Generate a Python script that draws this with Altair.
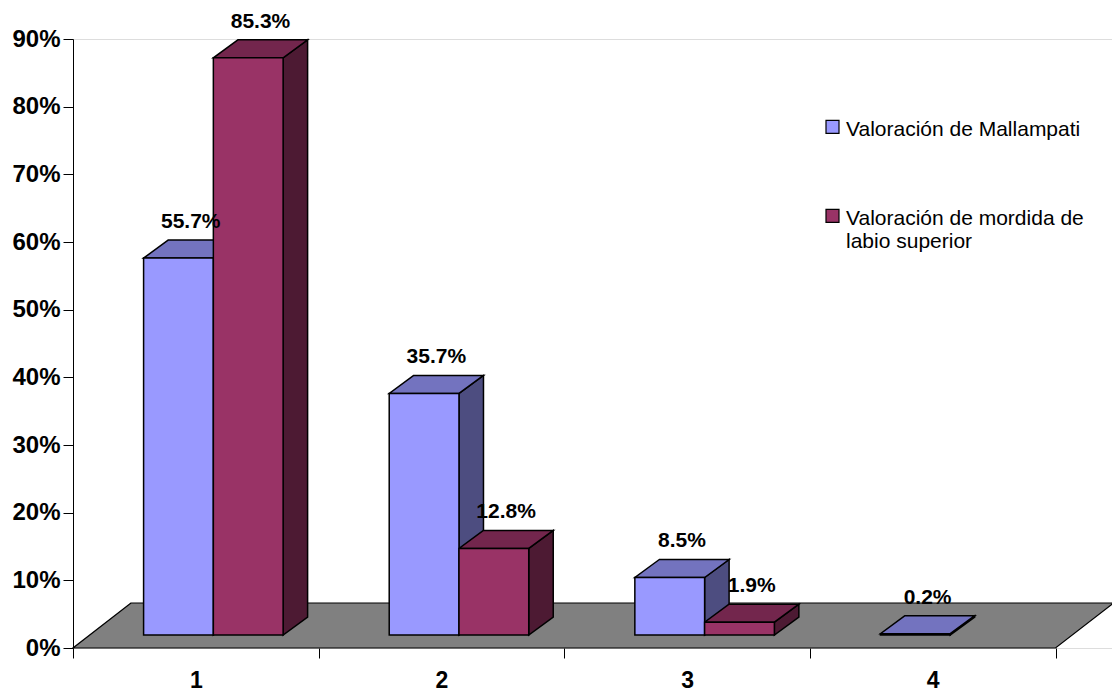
import json
import altair as alt
import pandas as pd

# ---------------- data ----------------
categories = ["1", "2", "3", "4"]
series_names = ["Valoración de Mallampati", "Valoración de mordida de labio superior"]
mallampati = [55.7, 35.7, 8.5, 0.2]
mordida = [85.3, 12.8, 1.9, None]
legend_lines = [["Valoración de Mallampati"], ["Valoración de mordida de", "labio superior"]]

# ---------------- style ----------------
front_colors = ["#9999FF", "#993366"]
top_colors = ["#7373BF", "#73264D"]
side_colors = ["#4D4D80", "#4D1A33"]

W, H = 1039, 609
X_MAX = 4.23
Y_MAX = 90
PXU_X = W / X_MAX
PXU_Y = H / Y_MAX


def ux(px):
    return px / PXU_X


def uy(px):
    return px / PXU_Y


FLOOR_DX, FLOOR_DY = ux(58), uy(45)
FRONT_DX, FRONT_DY = ux(16.8), uy(13)
BAR_DX, BAR_DY = ux(24.5), uy(18)
GROUP_START = 0.219
BAR_W = 0.284
EDGE = 1.5

n = len(categories)
values = [mallampati, mordida]

fronts, sides, tops, labels = [], [], [], []
for s, vals in enumerate(values):
    for i, v in enumerate(vals):
        if v is None:
            continue
        bid = f"{s}-{i}"
        L = i + GROUP_START + s * BAR_W + FRONT_DX
        R = L + BAR_W
        base = FRONT_DY
        top = base + v
        fronts.append({"x": L, "x2": R, "y": base, "y2": top, "series": series_names[s]})
        sides.append({"id": bid, "x": R, "y": top, "y2": base, "fill": side_colors[s]})
        sides.append({"id": bid, "x": R + BAR_DX, "y": top + BAR_DY, "y2": base + BAR_DY, "fill": side_colors[s]})
        tops.append({"id": bid, "y": top, "x": L, "x2": R, "fill": top_colors[s]})
        tops.append({"id": bid, "y": top + BAR_DY, "x": L + BAR_DX, "x2": R + BAR_DX, "fill": top_colors[s]})
        labels.append({"x": (L + R) / 2 + BAR_DX / 2, "y": top + BAR_DY, "text": f"{v}%"})

floor = pd.DataFrame({"y": [0, FLOOR_DY], "x": [0, FLOOR_DX], "x2": [n, n + FLOOR_DX]})
fronts = pd.DataFrame(fronts)
sides = pd.DataFrame(sides)
tops = pd.DataFrame(tops)
labels = pd.DataFrame(labels)

# ---------------- scales / axes ----------------
x_scale = alt.Scale(domain=[0, X_MAX], nice=False, zero=False)
y_scale = alt.Scale(domain=[0, Y_MAX], nice=False, zero=False)

cat_array = json.dumps(categories, ensure_ascii=False)
x_axis = alt.Axis(
    values=[k * 0.5 for k in range(2 * n + 1)],
    labelExpr=f"datum.value % 1 == 0 ? '' : {cat_array}[floor(datum.value)]",
    tickOpacity={"condition": {"test": "datum.value % 1 != 0", "value": 0}, "value": 1},
    domain=False, grid=False, title=None,
    tickSize=10, tickColor="black", tickWidth=1,
    labelFont="Liberation Sans", labelFontSize=23, labelFontWeight="bold",
    labelColor="black", labelPadding=11, labelBaseline="top",
)
y_axis = alt.Axis(
    values=list(range(0, 91, 10)),
    labelExpr="datum.value + '%'",
    grid=False, title=None, domainColor="black", domainWidth=1,
    tickSize=10, tickColor="black", tickWidth=1,
    labelFont="Liberation Sans", labelFontSize=24, labelFontWeight="bold",
    labelColor="black", labelPadding=3,
)


def X(field="x"):
    return alt.X(f"{field}:Q", scale=x_scale, axis=x_axis)


def Y(field="y"):
    return alt.Y(f"{field}:Q", scale=y_scale, axis=y_axis)


expr = "datum.label"
for name, lines in zip(series_names, legend_lines):
    if len(lines) > 1:
        expr = f"datum.label == {json.dumps(name, ensure_ascii=False)} ? {json.dumps(lines, ensure_ascii=False)} : ({expr})"

legend = alt.Legend(
    title=None, orient="none", legendX=749, legendY=69, direction="vertical",
    labelFont="Liberation Sans", labelFontSize=21, labelColor="black",
    labelLimit=400, labelBaseline="top", labelExpr=expr, labelOffset=3,
    symbolType="M-1,0.3L1,0.3L1,2.3L-1,2.3Z", symbolSize=169,
    symbolStrokeColor="black", symbolStrokeWidth=1.2, symbolOpacity=1,
    rowPadding=57, padding=0,
)

floor_layer = alt.Chart(floor).mark_area(
    orient="horizontal", color="#808080", stroke="black", strokeWidth=1.2, opacity=1
).encode(y=Y(), x=X(), x2="x2:Q")

side_layer = alt.Chart(sides).mark_area(
    orient="vertical", stroke="black", strokeWidth=EDGE, opacity=1
).encode(x=X(), y=Y(), y2="y2:Q", color=alt.Color("fill:N", scale=None), detail="id:N")

top_layer = alt.Chart(tops).mark_area(
    orient="horizontal", stroke="black", strokeWidth=EDGE, opacity=1
).encode(y=Y(), x=X(), x2="x2:Q", color=alt.Color("fill:N", scale=None), detail="id:N")

front_layer = alt.Chart(fronts).mark_rect(stroke="black", strokeWidth=EDGE, opacity=1).encode(
    x=X(), x2="x2:Q", y=Y(), y2="y2:Q",
    color=alt.Color("series:N", scale=alt.Scale(domain=series_names, range=front_colors), legend=legend),
)

label_layer = alt.Chart(labels).mark_text(
    font="Liberation Sans", fontSize=21, fontWeight="bold", color="black",
    baseline="alphabetic", align="center", dy=-12,
).encode(x=X(), y=Y(), text="text:N")

chart = alt.layer(floor_layer, side_layer, top_layer, front_layer, label_layer).properties(
    width=W, height=H,
    autosize=alt.AutoSizeParams(type="none"),
    padding={"left": 73, "top": 39, "right": 0, "bottom": 47},
).configure_view(stroke=None).configure(background="white")

chart.save("out.html", embed_options={"renderer": "svg", "actions": False})
